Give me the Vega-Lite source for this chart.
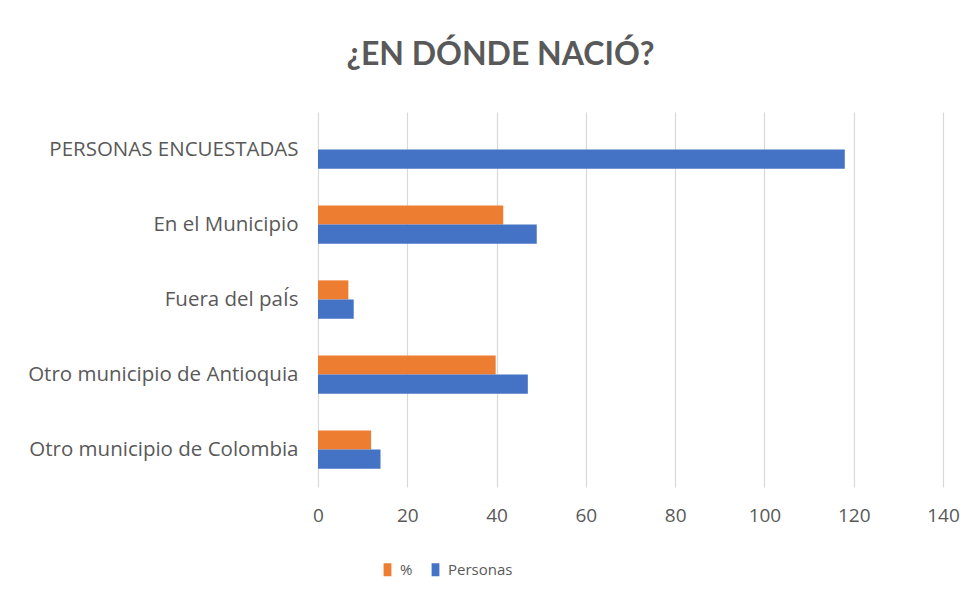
{
  "$schema": "https://vega.github.io/schema/vega-lite/v6.json",
  "autosize": "none",
  "width": 625,
  "height": 375,
  "padding": {"left": 318, "top": 112, "right": 36, "bottom": 120},
  "background": "white",
  "title": {
    "text": "¿EN DÓNDE NACIÓ?",
    "font": "Lato",
    "fontSize": 32,
    "fontWeight": "bold",
    "color": "#595959",
    "anchor": "middle",
    "dx": -130,
    "offset": 40
  },
  "data": {
    "values": [
      {"categoria": "PERSONAS ENCUESTADAS", "serie": "Personas", "valor": 118},
      {"categoria": "En el Municipio", "serie": "%", "valor": 41.5},
      {"categoria": "En el Municipio", "serie": "Personas", "valor": 49},
      {"categoria": "Fuera del paÍs", "serie": "%", "valor": 6.8},
      {"categoria": "Fuera del paÍs", "serie": "Personas", "valor": 8},
      {"categoria": "Otro municipio de Antioquia", "serie": "%", "valor": 39.8},
      {"categoria": "Otro municipio de Antioquia", "serie": "Personas", "valor": 47},
      {"categoria": "Otro municipio de Colombia", "serie": "%", "valor": 11.9},
      {"categoria": "Otro municipio de Colombia", "serie": "Personas", "valor": 14}
    ]
  },
  "mark": {"type": "bar"},
  "encoding": {
    "y": {
      "field": "categoria",
      "type": "nominal",
      "sort": ["PERSONAS ENCUESTADAS", "En el Municipio", "Fuera del paÍs", "Otro municipio de Antioquia", "Otro municipio de Colombia"],
      "scale": {"paddingInner": 0.49, "paddingOuter": 0.245},
      "axis": {
        "title": null,
        "domain": false,
        "ticks": false,
        "tickSize": 0,
        "labelPadding": 20,
        "labelFont": "Open Sans",
        "labelFontSize": 20.5,
        "labelColor": "#595959",
        "labelLimit": 400
      }
    },
    "yOffset": {
      "field": "serie",
      "type": "nominal",
      "sort": ["%", "Personas"],
      "scale": {"domain": ["%", "Personas"], "paddingInner": 0, "paddingOuter": 0}
    },
    "x": {
      "field": "valor",
      "type": "quantitative",
      "scale": {"domain": [0, 140], "nice": false},
      "axis": {
        "title": null,
        "values": [0, 20, 40, 60, 80, 100, 120, 140],
        "domain": false,
        "ticks": false,
        "tickSize": 0,
        "grid": true,
        "gridColor": "#d9d9d9",
        "gridWidth": 1.2,
        "labelFlush": false,
        "labelPadding": 19,
        "labelFont": "Open Sans",
        "labelFontSize": 19,
        "labelColor": "#595959"
      }
    },
    "color": {
      "field": "serie",
      "type": "nominal",
      "scale": {"domain": ["%", "Personas"], "range": ["#ED7D31", "#4472C4"]},
      "legend": {
        "title": null,
        "orient": "none",
        "direction": "horizontal",
        "legendX": 62,
        "legendY": 450,
        "symbolType": "M-0.6,-1L0.6,-1L0.6,1L-0.6,1Z",
        "symbolSize": 169,
        "symbolStrokeWidth": 0,
        "labelOffset": 5,
        "labelFont": "Open Sans",
        "labelFontSize": 15,
        "labelColor": "#595959",
        "columnPadding": 15
      }
    }
  },
  "config": {
    "view": {"stroke": null}
  }
}
